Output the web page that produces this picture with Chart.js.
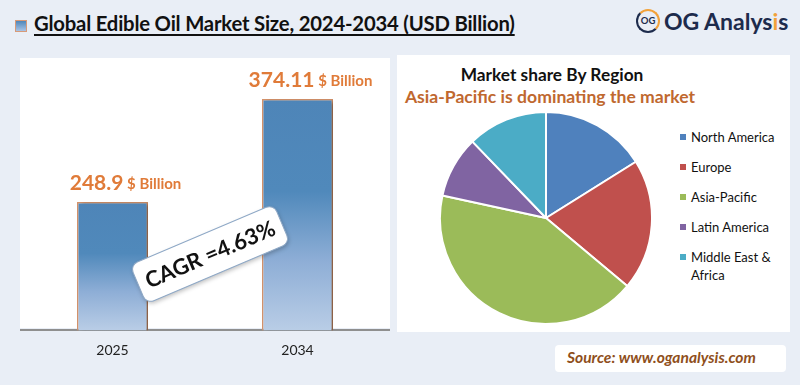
<!DOCTYPE html>
<html>
<head>
<meta charset="utf-8">
<script src="https://cdn.jsdelivr.net/npm/chart.js@4"></script>
<style>
  html, body { margin: 0; padding: 0; }
  body { width: 800px; height: 385px; background: #e9eef6; position: relative; overflow: hidden; font-family: Lato, "Open Sans", sans-serif; }
  .abs { position: absolute; }
  .panel { background: #fff; }
  #title { left: 34px; top: 11px; font-size: 20.3px; font-weight: 700; color: #111; text-decoration: underline; text-underline-offset: 3px; white-space: nowrap; letter-spacing: -0.2px; }
  #titleIcon { left: 15px; top: 20px; width: 10px; height: 10px; border: 1px solid #d89a78; background: linear-gradient(#4f86b9, #a9c4e6); }
  #logo { left: 664px; top: 7px; font-size: 23px; font-weight: 700; color: #1d2b4c; white-space: nowrap; }
  #logo .i { color: #f2a23a; }
  #logoIcon { left: 636px; top: 9px; width: 20px; height: 20px; border-radius: 50%; border: 2.5px solid #1d2b4c; border-top-color: #f2a23a; border-right-color: #f2a23a; font-size: 9.5px; font-weight: 700; color: #1d2b4c; text-align: center; line-height: 20px; }
  #pieTitle { left: 400px; width: 304px; top: 64px; text-align: center; font-size: 17.3px; font-weight: 700; color: #111; }
  #pieSub { left: 400px; width: 300px; top: 86px; text-align: center; font-size: 17.6px; font-weight: 700; color: #c0682f; white-space: nowrap; }
  #legend { left: 680px; top: 128px; font-size: 13px; color: #111; }
  #legend .item { position: relative; padding-left: 11px; height: 30px; line-height: 18px; }
  #legend .sw { position: absolute; left: 0; top: 6px; width: 6px; height: 6px; }
  #source { left: 555px; top: 345px; width: 231px; height: 27px; border-radius: 4px; }
  #source span { position: absolute; left: 12px; top: 3px; font-size: 15.6px; font-weight: 700; font-style: italic; color: #8f4f1c; white-space: nowrap; }
</style>
</head>
<body>
<div id="titleIcon" class="abs"></div>
<div id="title" class="abs">Global Edible Oil Market Size, 2024-2034 (USD Billion)</div>
<div id="logoIcon" class="abs">OG</div>
<div id="logo" class="abs">OG Analys<span class="i">i</span>s</div>

<div class="abs panel" style="left:20px;top:58px;width:370px;height:270px;"></div>
<div class="abs" style="left:20px;top:58px;width:370px;height:305px;"><canvas id="barChart"></canvas></div>

<div class="abs panel" style="left:397px;top:55px;width:393px;height:277px;"></div>
<div id="pieTitle" class="abs">Market share By Region</div>
<div id="pieSub" class="abs">Asia-Pacific is dominating the market</div>
<div class="abs" style="left:439px;top:111px;width:214px;height:214px;"><canvas id="pieChart"></canvas></div>
<div id="legend" class="abs"></div>

<div id="source" class="abs panel"><span>Source: www.oganalysis.com</span></div>

<script>
// market size
const years = ['2025', '2034'];
const marketSize = [248.9, 374.11];
const cagrText = 'CAGR =4.63%';

// regional share (%)
const regions = ['North America', 'Europe', 'Asia-Pacific', 'Latin America', 'Middle East & Africa'];
const regionShare = [16.1, 20.0, 42.3, 9.4, 12.2];
const regionColors = ['#4f81bd', '#c0504d', '#9bbb59', '#8064a2', '#4bacc6'];

Chart.defaults.font.family = 'Lato, "Open Sans", sans-serif';
Chart.defaults.animation = false;

// bar shadow + value labels + CAGR badge
const barExtras = {
    id: 'barExtras',
    beforeDatasetsDraw(chart) {
        const ctx = chart.ctx;
        ctx.save();
        ctx.shadowColor = 'rgba(0,0,0,0.35)';
        ctx.shadowOffsetX = 4;
        ctx.shadowOffsetY = 1;
        ctx.shadowBlur = 4;
    },
    afterDatasetsDraw(chart) {
        const ctx = chart.ctx;
        ctx.restore();
        const meta = chart.getDatasetMeta(0);
        meta.data.forEach((bar, i) => {
            const num = String(marketSize[i]);
            const unit = ' $ Billion';
            ctx.save();
            ctx.textBaseline = 'middle';
            ctx.fillStyle = '#e07b39';
            ctx.font = 'bold 21px Lato, sans-serif';
            const w1 = ctx.measureText(num).width;
            ctx.font = 'bold 15px Lato, sans-serif';
            const w2 = ctx.measureText(unit).width;
            let x = bar.x + 13 - (w1 + w2) / 2;
            const y = bar.y - 19;
            ctx.font = 'bold 21px Lato, sans-serif';
            ctx.fillText(num, x, y);
            ctx.font = 'bold 15px Lato, sans-serif';
            ctx.fillText(unit, x + w1, y + 1);
            ctx.restore();
        });

        // CAGR badge
        ctx.save();
        ctx.translate(190, 196);
        ctx.rotate(-23 * Math.PI / 180);
        ctx.shadowColor = 'rgba(0,0,0,0.25)';
        ctx.shadowBlur = 4;
        ctx.shadowOffsetX = 1;
        ctx.shadowOffsetY = 2;
        ctx.beginPath();
        ctx.roundRect(-78, -21, 156, 42, 8);
        ctx.fillStyle = '#fff';
        ctx.fill();
        ctx.shadowColor = 'transparent';
        ctx.lineWidth = 1;
        ctx.strokeStyle = '#8ea8c6';
        ctx.stroke();
        ctx.fillStyle = '#111';
        ctx.font = 'bold 22px Lato, sans-serif';
        ctx.textAlign = 'center';
        ctx.textBaseline = 'middle';
        ctx.fillText(cagrText, 0, 1);
        ctx.restore();
    }
};

new Chart(document.getElementById('barChart'), {
    type: 'bar',
    data: {
        labels: years,
        datasets: [{
            data: marketSize,
            backgroundColor: (c) => {
                const chart = c.chart;
                const y = chart.scales.y;
                if (!chart.chartArea || !y || c.dataIndex === undefined) return '#4f86b9';
                const top = y.getPixelForValue(marketSize[c.dataIndex]);
                const bottom = chart.chartArea.bottom;
                const g = chart.ctx.createLinearGradient(0, top, 0, bottom);
                g.addColorStop(0, '#4e85b8');
                g.addColorStop(0.4, '#5089bb');
                g.addColorStop(0.7, '#8eaed6');
                g.addColorStop(1, '#b9cde6');
                return g;
            },
            borderColor: '#d4926a',
            borderWidth: 1.5,
            borderSkipped: 'bottom',
            categoryPercentage: 1,
            barPercentage: 0.384
        }]
    },
    options: {
        responsive: true,
        maintainAspectRatio: false,
        layout: { padding: 0 },
        plugins: { legend: { display: false }, tooltip: { enabled: false } },
        scales: {
            x: {
                grid: { display: false },
                border: { display: true, color: '#8f8f8f', width: 2 },
                ticks: { color: '#222', font: { size: 14 }, padding: 4 }
            },
            y: { display: false, min: 93, max: 424 }
        }
    },
    plugins: [barExtras]
});

new Chart(document.getElementById('pieChart'), {
    type: 'pie',
    data: {
        labels: regions,
        datasets: [{
            data: regionShare,
            backgroundColor: regionColors,
            borderColor: '#fff',
            borderWidth: 2
        }]
    },
    options: {
        responsive: true,
        maintainAspectRatio: false,
        layout: { padding: 0 },
        plugins: { legend: { display: false }, tooltip: { enabled: false } }
    }
});

// legend
const legendBox = document.getElementById('legend');
const legendText = ['North America', 'Europe', 'Asia-Pacific', 'Latin America', 'Middle East &<br>Africa'];
regions.forEach((r, i) => {
    const item = document.createElement('div');
    item.className = 'item';
    item.innerHTML = '<span class="sw" style="background:' + regionColors[i] + '"></span>' + legendText[i];
    legendBox.appendChild(item);
});
</script>
</body>
</html>
